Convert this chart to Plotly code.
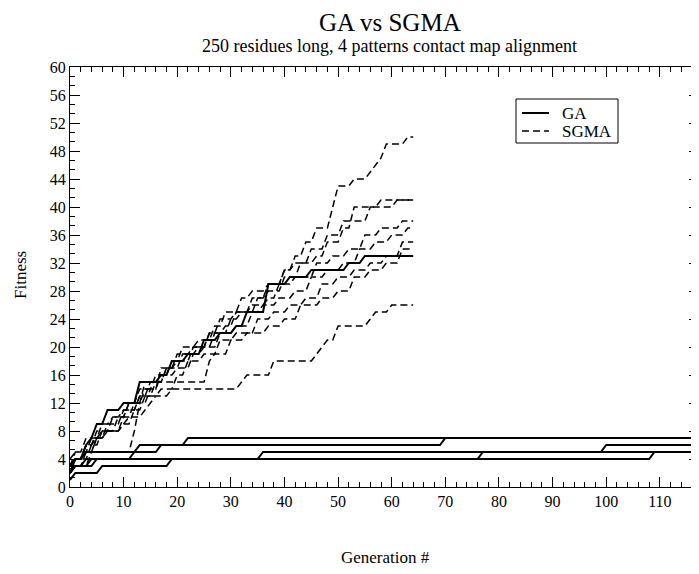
import plotly.graph_objects as go

# ---------------- data (vertices of each run's fitness trace) ----------------
ga1_gen = [0, 1, 5, 6, 18, 19, 35, 36, 99, 100, 118]
ga1_fit = [1, 2, 2, 3, 3, 4, 4, 5, 5, 6, 6]
ga2_gen = [0, 1, 4, 5, 76, 77, 116, 117, 118]
ga2_fit = [2, 3, 3, 4, 4, 5, 5, 6, 6]
ga3_gen = [0, 2, 3, 108, 109, 118]
ga3_fit = [3, 3, 4, 4, 5, 5]
ga4_gen = [0, 1, 3, 4, 11, 12, 13, 69, 70, 118]
ga4_fit = [2, 3, 3, 4, 4, 5, 6, 6, 7, 7]
ga5_gen = [0, 1, 2, 3, 16, 17, 21, 22, 118]
ga5_fit = [3, 4, 4, 5, 5, 6, 6, 7, 7]
ga6_gen = [0, 1, 2, 3, 4, 5, 6, 7, 9, 10, 12, 13, 16, 17, 18, 19, 21, 22, 24, 25, 27, 28,
           30, 31, 32, 33, 36, 37, 40, 41, 44, 45, 51, 52, 54, 55, 64]
ga6_fit = [2, 4, 4, 6, 7, 9, 9, 11, 11, 12, 12, 15, 15, 16, 16, 18, 18, 19, 19, 21, 21, 22,
           22, 23, 23, 25, 25, 29, 29, 30, 30, 31, 31, 32, 32, 33, 33]

sg1_gen = [0, 1, 3, 4, 6, 7, 9, 10, 12, 13, 15, 16, 17, 18, 20, 21, 23, 24, 26, 27, 29, 30,
           31, 32, 34, 35, 36, 37, 39, 40, 41, 42, 43, 44, 45, 46, 48, 49, 50, 52, 53, 55,
           56, 57, 58, 59, 62, 63, 64]
sg1_fit = [3, 5, 5, 7, 7, 9, 9, 11, 11, 13, 13, 15, 15, 17, 17, 19, 19, 20, 20, 22, 22, 24,
           24, 25, 25, 27, 27, 29, 29, 31, 31, 33, 33, 35, 35, 37, 37, 40, 43, 43, 44, 44,
           45, 46, 47, 49, 49, 50, 50]
sg2_gen = [0, 1, 3, 4, 5, 6, 8, 9, 10, 11, 13, 14, 16, 17, 19, 20, 22, 23, 25, 26, 27, 28,
           30, 31, 33, 34, 36, 37, 39, 40, 42, 43, 45, 46, 47, 48, 50, 51, 52, 53, 60, 61, 64]
sg2_fit = [2, 4, 4, 6, 6, 8, 8, 10, 10, 12, 12, 14, 14, 17, 17, 19, 19, 20, 20, 22, 22, 24,
           24, 25, 25, 27, 27, 28, 28, 30, 30, 32, 32, 33, 33, 35, 35, 37, 37, 40, 40, 41, 41]
sg3_gen = [0, 1, 2, 3, 5, 6, 7, 8, 10, 11, 12, 13, 15, 16, 18, 19, 20, 21, 23, 24, 26, 27,
           28, 29, 31, 32, 33, 34, 36, 37, 39, 40, 41, 42, 44, 45, 47, 48, 50, 51, 55, 56,
           57, 58, 64]
sg3_fit = [4, 5, 5, 7, 7, 9, 9, 10, 10, 12, 12, 14, 14, 16, 16, 18, 18, 20, 20, 21, 21, 23,
           23, 25, 25, 27, 27, 28, 28, 29, 29, 31, 31, 32, 32, 34, 34, 36, 36, 38, 38, 40,
           40, 41, 41]
sg4_gen = [0, 1, 2, 3, 4, 5, 7, 8, 9, 10, 12, 13, 14, 15, 17, 18, 19, 20, 22, 23, 25, 26,
           28, 29, 30, 31, 33, 34, 36, 37, 38, 39, 41, 42, 45, 46, 48, 49, 51, 52, 54, 55,
           57, 58, 61, 62, 64]
sg4_fit = [3, 4, 4, 6, 6, 8, 8, 10, 10, 11, 11, 13, 13, 15, 15, 17, 17, 18, 18, 20, 20, 22,
           22, 23, 23, 25, 25, 26, 26, 27, 27, 29, 29, 30, 30, 32, 32, 33, 33, 34, 34, 36,
           36, 37, 37, 38, 38]
sg5_gen = [0, 1, 2, 3, 4, 5, 6, 7, 9, 10, 11, 12, 14, 15, 16, 17, 19, 20, 22, 23, 24, 25,
           27, 28, 30, 31, 33, 34, 35, 36, 38, 39, 41, 42, 44, 45, 47, 48, 50, 51, 53, 54,
           56, 57, 59, 60, 62, 63, 64]
sg5_fit = [2, 3, 3, 5, 5, 7, 7, 8, 8, 10, 10, 12, 12, 14, 14, 16, 16, 17, 17, 19, 19, 20,
           20, 22, 22, 23, 23, 25, 25, 26, 26, 27, 27, 28, 28, 30, 30, 31, 31, 32, 32, 34,
           34, 35, 35, 36, 36, 37, 37]
sg6_gen = [0, 1, 2, 3, 4, 5, 6, 7, 9, 10, 11, 12, 13, 14, 16, 17, 19, 20, 21, 22, 24, 25,
           27, 28, 30, 31, 34, 35, 37, 38, 40, 41, 43, 44, 46, 47, 49, 50, 52, 53, 55, 56,
           58, 59, 61, 62, 64]
sg6_fit = [3, 4, 4, 5, 5, 7, 7, 8, 8, 9, 9, 11, 11, 13, 13, 14, 14, 16, 16, 18, 18, 19,
           19, 21, 21, 22, 22, 24, 24, 25, 25, 26, 26, 27, 27, 29, 29, 30, 30, 31, 31, 32,
           32, 33, 33, 35, 35]
sg7_gen = [0, 1, 3, 4, 11, 12, 13, 14, 25, 26, 27, 29, 30, 32, 33, 36, 37, 39, 40, 42, 43,
           46, 47, 49, 50, 52, 53, 55, 56, 58, 59, 61, 62, 64]
sg7_fit = [2, 3, 3, 5, 5, 8, 12, 15, 15, 18, 19, 19, 21, 21, 22, 22, 23, 23, 24, 24, 26,
           26, 27, 27, 28, 28, 30, 30, 31, 31, 32, 32, 34, 34]
sg8_gen = [0, 1, 2, 3, 4, 5, 6, 9, 10, 11, 13, 14, 15, 16, 18, 19, 31, 32, 33, 37, 38, 45,
           46, 47, 48, 49, 50, 55, 56, 57, 59, 60, 64]
sg8_fit = [3, 4, 4, 6, 6, 7, 8, 8, 9, 10, 10, 11, 12, 13, 13, 14, 14, 15, 16, 16, 18, 18,
           19, 20, 21, 21, 23, 23, 24, 25, 25, 26, 26]

ga_runs = [(ga1_gen, ga1_fit), (ga2_gen, ga2_fit), (ga3_gen, ga3_fit),
           (ga4_gen, ga4_fit), (ga5_gen, ga5_fit), (ga6_gen, ga6_fit)]
sgma_runs = [(sg1_gen, sg1_fit), (sg2_gen, sg2_fit), (sg3_gen, sg3_fit), (sg4_gen, sg4_fit),
             (sg5_gen, sg5_fit), (sg6_gen, sg6_fit), (sg7_gen, sg7_fit), (sg8_gen, sg8_fit)]

legend_labels = ["GA", "SGMA"]
y_ticks = list(range(0, 61, 4))
x_ticks = list(range(0, 111, 10))

FONT = "'Liberation Serif', 'Times New Roman', Times, serif"
SOLID = dict(color="black", width=2)
DASHED = dict(color="black", width=1.5, dash="7px,4px")

fig = go.Figure()
for i, (g, f) in enumerate(ga_runs):
    fig.add_trace(go.Scatter(x=g, y=f, mode="lines", name=legend_labels[0],
                             line=SOLID, showlegend=False, legendgroup="ga"))
for i, (g, f) in enumerate(sgma_runs):
    fig.add_trace(go.Scatter(x=g, y=f, mode="lines", name=legend_labels[1],
                             line=DASHED, showlegend=False, legendgroup="sgma"))

axis_common = dict(showline=True, linecolor="black", linewidth=1, mirror="allticks",
                   ticks="inside", ticklen=10, tickwidth=1, tickcolor="black",
                   showgrid=False, zeroline=False, automargin=False,
                   tickfont=dict(family=FONT, size=16, color="black"))

fig.update_xaxes(range=[0, 117.3], tickvals=x_ticks, **axis_common,
                 minor=dict(ticks="inside", dtick=2, tick0=0, ticklen=5,
                            tickcolor="black", showgrid=False))
fig.update_yaxes(range=[0, 60], tickvals=y_ticks, **axis_common,
                 minor=dict(ticks="inside", dtick=4 / 3, tick0=0, ticklen=5,
                            tickcolor="black", showgrid=False))

# page has an 8px body margin: work in screen pixels and shift by it
OFF = 8
W, H = 699, 574
S_LEFT, S_RIGHT, S_TOP, S_BOTTOM = 70, 699, 67, 487
L = S_LEFT - OFF
R = W - (S_RIGHT - OFF)
T = S_TOP - OFF
B = H - (S_BOTTOM - OFF)
plot_w = W - L - R
plot_h = H - T - B


def px(sx):
    return (sx - S_LEFT) / plot_w


def py(sy):
    return (S_BOTTOM - sy) / plot_h


shapes = [
    dict(type="rect", xref="paper", yref="paper", x0=px(516), x1=px(618),
         y0=py(143), y1=py(99), line=dict(color="black", width=1), fillcolor="white",
         layer="above"),
    dict(type="line", xref="paper", yref="paper", x0=px(522), x1=px(549),
         y0=py(113), y1=py(113), line=dict(color="black", width=2), layer="above"),
    dict(type="line", xref="paper", yref="paper", x0=px(522), x1=px(549),
         y0=py(131), y1=py(131), line=dict(color="black", width=1.5, dash="7px,4px"),
         layer="above"),
]

annotations = [
    dict(text="GA vs SGMA", xref="paper", yref="paper", x=px(390), y=py(23),
         showarrow=False, yanchor="middle", font=dict(family=FONT, size=25, color="black")),
    dict(text="250 residues long, 4 patterns contact map alignment", xref="paper",
         yref="paper", x=px(389), y=py(46), showarrow=False, yanchor="middle",
         font=dict(family=FONT, size=18, color="black")),
    dict(text="Fitness", xref="paper", yref="paper", x=px(20), y=py(275),
         textangle=-90, showarrow=False, xanchor="center", yanchor="middle",
         font=dict(family=FONT, size=17, color="black")),
    dict(text="Generation #", xref="paper", yref="paper", x=px(386), y=py(557),
         showarrow=False, yanchor="middle", font=dict(family=FONT, size=17, color="black")),
    dict(text=legend_labels[0], xref="paper", yref="paper", x=px(560), y=py(113),
         showarrow=False, xanchor="left", yanchor="middle",
         font=dict(family=FONT, size=17, color="black")),
    dict(text=legend_labels[1], xref="paper", yref="paper", x=px(560), y=py(131),
         showarrow=False, xanchor="left", yanchor="middle",
         font=dict(family=FONT, size=17, color="black")),
]

fig.update_layout(
    width=W, height=H,
    margin=dict(l=L, r=R, t=T, b=B, autoexpand=False),
    paper_bgcolor="white", plot_bgcolor="white",
    font=dict(family=FONT, color="black"),
    showlegend=False,
    shapes=shapes,
    annotations=annotations,
)

fig.write_html("out.html")
